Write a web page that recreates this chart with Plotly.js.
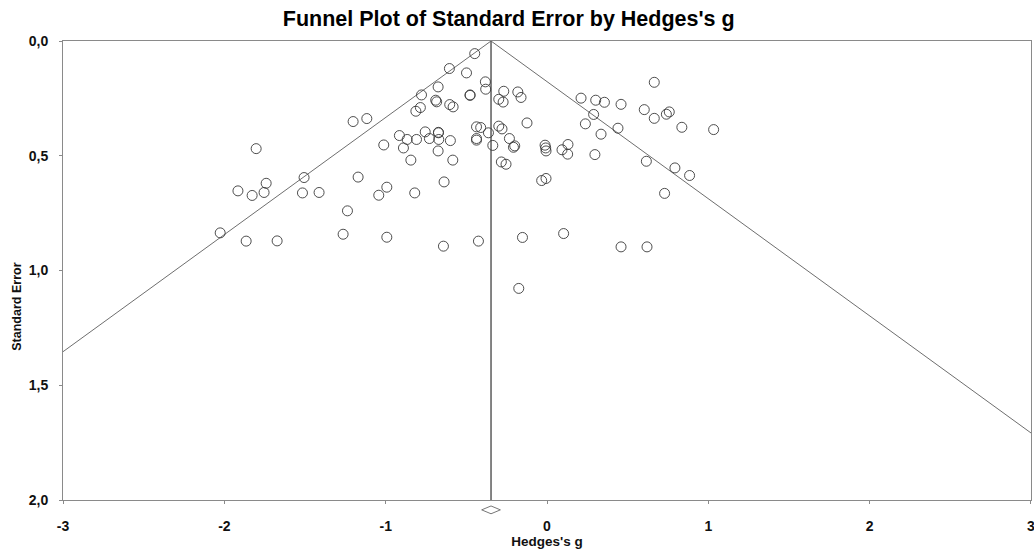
<!DOCTYPE html>
<html>
<head>
<meta charset="utf-8">
<script src="https://cdn.plot.ly/plotly-3.0.1.min.js"></script>
<style>html,body{margin:0;padding:0;background:#fff;}#chart{width:1034px;height:554px;}</style>
</head>
<body>
<div id="chart"></div>
<script>
// Study effect sizes (Hedges's g) and standard errors
const hedgesG = [
  -0.448,-0.605,-0.499,-0.382,-0.380,-0.675,-0.778,-0.477,-0.477,-0.690,
  -0.684,-0.785,-0.813,-0.603,-0.582,-1.202,-1.117,-0.299,-0.268,-0.272,
  -0.181,-0.161,-0.437,-0.411,-0.363,-0.437,-0.437,-0.336,-0.299,-0.279,
  -0.233,-0.208,-0.200,-0.283,-0.254,-0.915,-0.867,-0.809,-0.755,-0.729,
  -0.673,-0.673,-0.671,-0.599,-1.012,-0.890,-0.675,-0.844,-0.584,-1.803,
  -1.506,-1.171,-0.638,-1.741,-1.916,-1.828,-1.754,-1.516,-1.413,-1.043,
  -0.993,-0.820,-1.237,-2.026,-1.865,-1.673,-1.264,-0.993,-0.642,-0.425,
  -0.152,-0.175,0.665,0.211,0.302,0.356,0.459,0.603,0.665,0.740,
  0.758,0.836,1.033,0.289,0.238,0.440,0.335,-0.124,-0.012,-0.008,
  -0.006,0.093,0.130,0.128,0.297,-0.033,-0.006,0.616,0.793,0.884,
  0.729,0.103,0.459,0.620
];
const stdError = [
  0.055,0.120,0.139,0.178,0.210,0.200,0.235,0.235,0.237,0.258,
  0.265,0.290,0.306,0.277,0.287,0.351,0.338,0.254,0.219,0.266,
  0.222,0.246,0.374,0.377,0.400,0.425,0.432,0.455,0.371,0.383,
  0.425,0.463,0.457,0.527,0.537,0.412,0.429,0.429,0.396,0.425,
  0.400,0.398,0.429,0.434,0.453,0.466,0.479,0.519,0.519,0.469,
  0.595,0.593,0.614,0.620,0.653,0.673,0.660,0.662,0.660,0.672,
  0.637,0.662,0.740,0.836,0.872,0.871,0.842,0.855,0.894,0.872,
  0.856,1.078,0.180,0.249,0.258,0.267,0.276,0.299,0.337,0.319,
  0.309,0.376,0.386,0.320,0.361,0.380,0.406,0.357,0.454,0.466,
  0.479,0.474,0.451,0.493,0.495,0.608,0.599,0.524,0.553,0.586,
  0.664,0.839,0.897,0.897
];
// Pooled estimate and its confidence interval
const pooledG = -0.347;
const pooledLow = -0.405;
const pooledHigh = -0.289;
const zCrit = 1.96;
const seMax = 2.0;

const xTickVals = [-3,-2,-1,0,1,2,3];
const xTickText = ['-3','-2','-1','0','1','2','3'];
const yTickVals = [0,0.5,1,1.5,2];
const yTickText = ['0,0','0,5','1,0','1,5','2,0'];

const funnelX = [pooledG - zCrit*seMax, pooledG, pooledG + zCrit*seMax];
const funnelY = [seMax, 0, seMax];

const traces = [
  {x: funnelX, y: funnelY, mode:'lines', type:'scatter',
   line:{color:'#6e6e6e', width:1}, hoverinfo:'skip', showlegend:false},
  {x: [pooledG, pooledG], y: [0, seMax], mode:'lines', type:'scatter',
   line:{color:'#666666', width:1.6}, hoverinfo:'skip', showlegend:false},
  {x: hedgesG, y: stdError, mode:'markers', type:'scatter',
   marker:{symbol:'circle-open', size:10, color:'#3a3a3a', line:{width:0.9, color:'#3a3a3a'}},
   showlegend:false}
];

const dTop = -0.013, dMid = -0.0215, dBot = -0.030;
const diamondPath = 'M ' + pooledLow + ',' + dMid + ' L ' + pooledG + ',' + dTop +
  ' L ' + pooledHigh + ',' + dMid + ' L ' + pooledG + ',' + dBot + ' Z';

const fontFam = '"Liberation Sans", Arial, sans-serif';
const layout = {
  width:1034, height:554,
  margin:{l:63, r:3, t:41, b:54},
  paper_bgcolor:'#ffffff', plot_bgcolor:'#ffffff',
  separators:',.',
  title:{text:"<b>Funnel Plot of Standard Error by Hedges's g</b>",
    font:{family:fontFam, size:21.5, color:'#000'},
    x:0.492, xref:'container', xanchor:'center', y:0.967, yref:'container', yanchor:'middle'},
  xaxis:{range:[-3.0005,3.0005], tickvals:xTickVals, ticktext:xTickText,
    showgrid:false, zeroline:false, showline:true, linecolor:'#8a8a8a', linewidth:1,
    mirror:true, ticks:'outside', ticklen:3, tickcolor:'#8a8a8a',
    ticklabelstandoff:10, ticklabeloverflow:'allow',
    tickfont:{family:fontFam, size:14, color:'#111', weight:'bold'},
    title:{text:"<b>Hedges's g</b>", font:{family:fontFam, size:13.5, color:'#111'}, standoff:0}},
  yaxis:{range:[2,0], tickvals:yTickVals, ticktext:yTickText,
    showgrid:false, zeroline:false, showline:true, linecolor:'#8a8a8a', linewidth:1,
    mirror:true, ticks:'outside', ticklen:3, tickcolor:'#8a8a8a',
    ticklabelstandoff:8,
    tickfont:{family:fontFam, size:14, color:'#111', weight:'bold'}},
  shapes:[
    {type:'path', xref:'x', yref:'paper', path: diamondPath,
     line:{color:'#777', width:1}, fillcolor:'rgba(0,0,0,0)', layer:'above'}
  ],
  annotations:[
    {text:'<b>Standard Error</b>', textangle:-90, xref:'paper', yref:'paper',
     x:-0.047, y:0.42, xanchor:'center', yanchor:'middle', showarrow:false,
     font:{family:fontFam, size:12.5, color:'#111'}}
  ]
};
Plotly.newPlot('chart', traces, layout, {staticPlot:true, displayModeBar:false});
</script>
</body>
</html>
